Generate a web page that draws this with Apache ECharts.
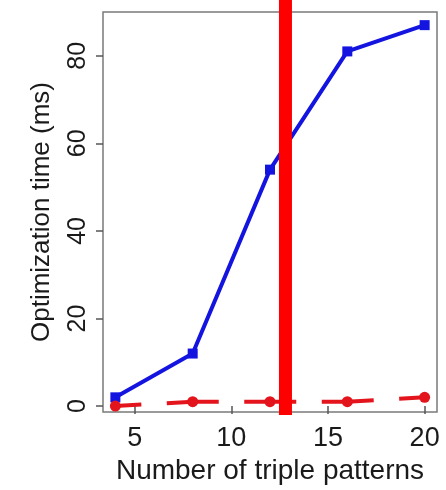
<!DOCTYPE html>
<html>
<head>
<meta charset="utf-8">
<script src="https://cdn.jsdelivr.net/npm/echarts@6/dist/echarts.min.js"></script>
<style>
html,body{margin:0;padding:0;background:#fff;}
#chart{width:446px;height:490px;}
</style>
</head>
<body>
<div id="chart"></div>
<script>
// Data
const patterns = [4, 8, 12, 16, 20];
const blueTimes = [2, 12, 54, 81, 87];
const redTimes = [0, 1, 1, 1, 2];
const xTicks = [5, 10, 15, 20];
const yTicks = [0, 20, 40, 60, 80];
const highlightX = 12.8;

const chart = echarts.init(document.getElementById('chart'));
const font = 'Liberation Sans, Arial, Helvetica, sans-serif';
chart.setOption({
  animation: false,
  backgroundColor: '#fff',
  grid: [
    {left: 103, right: 9, top: 12, bottom: 72, show: true, borderColor: '#7a7a7a', borderWidth: 1.5, containLabel: false},
    {left: 103, right: 9, top: 0, bottom: 75, show: false, containLabel: false}
  ],
  xAxis: [{
    type: 'value', min: 3.36, max: 20.64, gridIndex: 0,
    name: 'Number of triple patterns', nameLocation: 'middle', nameGap: 45,
    nameTextStyle: {fontFamily: font, fontSize: 28, color: '#1a1a1a'},
    axisLine: {show: false},
    splitLine: {show: false},
    axisTick: {show: true, length: 8, customValues: xTicks, lineStyle: {color: '#555', width: 1.5}},
    axisLabel: {customValues: xTicks, fontFamily: font, fontSize: 27, color: '#1a1a1a', margin: 13}
  }, {
    type: 'value', min: 3.36, max: 20.64, gridIndex: 1, show: false
  }],
  yAxis: [{
    type: 'value', min: -1.35, max: 90, gridIndex: 0,
    name: 'Optimization time (ms)', nameLocation: 'middle', nameGap: 48,
    nameTextStyle: {fontFamily: font, fontSize: 26, color: '#1a1a1a'},
    axisLine: {show: false},
    splitLine: {show: false},
    axisTick: {show: true, length: 7, customValues: yTicks, lineStyle: {color: '#555', width: 1.5}},
    axisLabel: {customValues: yTicks, rotate: 90, fontFamily: font, fontSize: 25, color: '#1a1a1a', margin: 12}
  }, {
    type: 'value', min: 0, max: 1, gridIndex: 1, show: false
  }],
  series: [
    {
      type: 'line', data: patterns.map((x, i) => [x, blueTimes[i]]),
      symbol: 'rect', symbolSize: 10, clip: false,
      lineStyle: {color: '#1414e0', width: 4},
      itemStyle: {color: '#1414e0'}, z: 2
    },
    {
      type: 'line', data: patterns.map((x, i) => [x, redTimes[i]]),
      symbol: 'circle', symbolSize: 11, clip: false,
      lineStyle: {color: '#e3141c', width: 4, type: [52, 25.5], dashOffset: 26},
      itemStyle: {color: '#e3141c'}, z: 3
    },
    {
      type: 'line', xAxisIndex: 1, yAxisIndex: 1,
      data: [[highlightX, 0], [highlightX, 1]],
      symbol: 'none', silent: true, clip: false,
      lineStyle: {color: '#ff0000', width: 13, cap: 'butt'}, z: 5
    }
  ]
});
</script>
</body>
</html>
